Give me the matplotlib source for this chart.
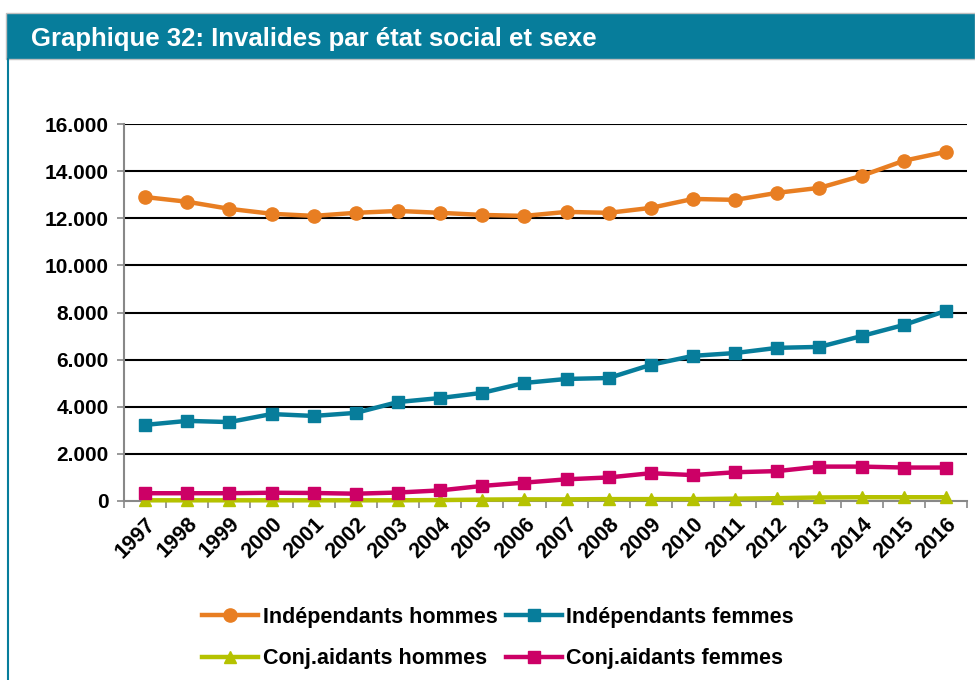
import matplotlib
matplotlib.use("Agg")
import matplotlib.pyplot as plt
from matplotlib.patches import Rectangle
from matplotlib.lines import Line2D
from matplotlib.ticker import FuncFormatter, MultipleLocator, FixedLocator
import numpy as np

plt.rcParams['font.family'] = ['Liberation Sans', 'DejaVu Sans']

years = [str(y) for y in range(1997, 2017)]
indep_hommes = [12900, 12700, 12400, 12190, 12100, 12230, 12310, 12230, 12140, 12100,
                12270, 12230, 12440, 12820, 12780, 13080, 13290, 13800, 14440, 14820]
indep_femmes = [3230, 3400, 3350, 3690, 3610, 3740, 4200, 4370, 4590, 5010,
                5180, 5220, 5780, 6160, 6280, 6500, 6540, 7000, 7470, 8070]
conj_hommes = [30, 30, 30, 30, 30, 30, 30, 40, 60, 70,
               70, 80, 80, 80, 100, 120, 150, 160, 160, 160]
conj_femmes = [330, 330, 330, 350, 340, 310, 360, 450, 640, 780,
               920, 1000, 1180, 1100, 1220, 1270, 1460, 1460, 1420, 1420]

series = [
    ("Indépendants hommes", indep_hommes, "#E87E22", "o", 9.5),
    ("Indépendants femmes", indep_femmes, "#077D9B", "s", 8.5),
    ("Conj.aidants hommes", conj_hommes, "#B5C200", "^", 8.5),
    ("Conj.aidants femmes", conj_femmes, "#CC0066", "s", 8.5),
]

W, H = 975, 680
fig = plt.figure(figsize=(W / 100, H / 100), dpi=100)

teal = "#077D9B"
# title bar
fig.patches.append(Rectangle((6 / W, 1 - 59 / H), 1 - 6 / W, 46 / H, transform=fig.transFigure,
                             facecolor=teal, edgecolor="#BFBFBF", linewidth=1, zorder=0))
fig.lines.append(Line2D([7.5 / W, 7.5 / W], [0, 1 - 59 / H], transform=fig.transFigure,
                        color=teal, linewidth=1.5))
fig.text(31 / W, 1 - 39 / H, "Graphique 32: Invalides par état social et sexe",
         color="white", fontsize=18.5, fontweight="bold", va="center", ha="left")

ax = fig.add_axes([124 / W, 1 - 501 / H, (967 - 124) / W, (501 - 124) / H])
x = np.arange(len(years))
handles = []
for label, vals, col, mk, ms in series:
    h, = ax.plot(x, vals, color=col, marker=mk, markersize=ms, linewidth=3.2,
                 label=label, clip_on=False, zorder=3)
    handles.append(h)

ax.set_xlim(-0.5, len(years) - 0.5)
ax.set_ylim(0, 16000)
ax.yaxis.set_major_locator(MultipleLocator(2000))
ax.yaxis.set_major_formatter(FuncFormatter(lambda v, p: f"{int(v):,}".replace(",", ".")))
for yv in range(2000, 16001, 2000):
    ax.axhline(yv, color="black", linewidth=1.5, zorder=1)

ax.set_xticks(x)
ax.set_xticklabels(years, rotation=45, ha="right", va="top", rotation_mode="anchor",
                   fontsize=15.5, fontweight="bold")
ax.tick_params(axis="x", which="major", length=0, pad=9)
ax.xaxis.set_minor_locator(FixedLocator(np.arange(-0.5, len(years), 1.0)))
ax.tick_params(axis="x", which="minor", length=5, color="#888888", width=1.2)
ax.tick_params(axis="y", length=5, color="#888888", width=1.2, labelsize=15, pad=6)
for lab in ax.get_yticklabels():
    lab.set_fontweight("bold")

for s in ["top", "right"]:
    ax.spines[s].set_visible(False)
for s in ["left", "bottom"]:
    ax.spines[s].set_color("#888888")
    ax.spines[s].set_linewidth(1.5)

order = [handles[0], handles[2], handles[1], handles[3]]
leg = fig.legend(order, [h.get_label() for h in order], ncol=2, loc="center",
                 bbox_to_anchor=(498 / W, 42 / H), frameon=False,
                 prop={"size": 15.5, "weight": "bold"}, handlelength=2.6,
                 handletextpad=0.2, columnspacing=0.4, labelspacing=0.95, numpoints=1)

fig.savefig("out.png", dpi=100)
